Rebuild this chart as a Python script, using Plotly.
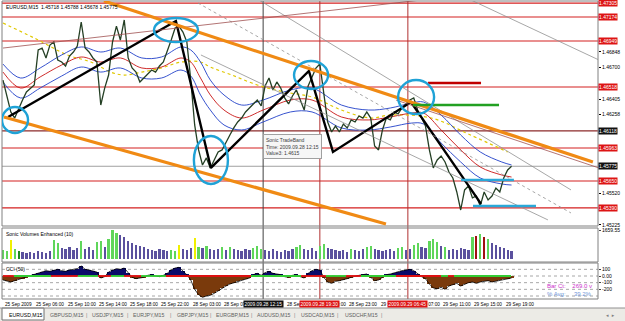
import plotly.graph_objects as go
import numpy as np

W, H = 625, 321

# ---------------- data ----------------
bar_idx = list(range(0, 261, 2))

close = [1.46583, 1.46443, 1.46284, 1.46227, 1.46321, 1.46396, 1.46471, 1.46508, 1.46537, 1.46865,
         1.46883, 1.46790, 1.46911, 1.46940, 1.46771, 1.46752, 1.46715, 1.46808, 1.46846, 1.46902,
         1.47127, 1.46883, 1.46846, 1.46790, 1.46752, 1.46349, 1.46508, 1.46630, 1.46940, 1.47089,
         1.46958, 1.47146, 1.46790, 1.46696, 1.46658, 1.46565, 1.46602, 1.46640, 1.46677, 1.46658,
         1.46715, 1.46752, 1.46846, 1.46958, 1.47071, 1.47089, 1.47033, 1.46940, 1.46583, 1.46162,
         1.45928, 1.45787, 1.45853, 1.45759, 1.45834, 1.45909, 1.45928, 1.46003, 1.46068, 1.46134,
         1.46190, 1.46227, 1.46284, 1.46321, 1.46359, 1.46396, 1.46340, 1.46527, 1.46602, 1.46490,
         1.46565, 1.46508, 1.46415, 1.46359, 1.46434, 1.46490, 1.46396, 1.46302, 1.46527, 1.46621,
         1.46696, 1.46733, 1.46443, 1.46190, 1.46096, 1.46152, 1.46096, 1.46171, 1.46134, 1.46209,
         1.46190, 1.46246, 1.46227, 1.46284, 1.46227, 1.45965, 1.45928, 1.46115, 1.46227, 1.46209,
         1.46284, 1.46265, 1.46321, 1.46359, 1.46396, 1.46415, 1.46302, 1.46227, 1.46152, 1.45928,
         1.45759, 1.45834, 1.45871, 1.45815, 1.45721, 1.45665, 1.45534, 1.45365, 1.45553, 1.45590,
         1.45478, 1.45496, 1.45403, 1.45534, 1.45459, 1.45496, 1.45571, 1.45534, 1.45665, 1.45740,
         1.45775]

ma_idx = [0, 9, 19, 30, 40, 50, 60, 71, 81, 91, 96, 101, 106, 113, 122, 133, 147, 158, 173, 187,
          198, 209, 215, 224, 234, 244, 255, 260]
ma_mid = [1.46658, 1.46508, 1.46612, 1.46724, 1.46799, 1.46752, 1.46790, 1.46696, 1.46705, 1.46790,
          1.46752, 1.46602, 1.46443, 1.46302, 1.46227, 1.46302, 1.46396, 1.46396, 1.46237, 1.46209,
          1.46237, 1.46274, 1.46274, 1.46115, 1.45928, 1.45768, 1.45693, 1.45674]
ma_high = [1.46733, 1.46602, 1.46696, 1.46818, 1.46893, 1.46846, 1.46883, 1.46790, 1.46799, 1.46893,
           1.46865, 1.46752, 1.46583, 1.46443, 1.46349, 1.46396, 1.46490, 1.46508, 1.46349, 1.46302,
           1.46321, 1.46368, 1.46377, 1.46255, 1.46068, 1.45909, 1.45815, 1.45787]
ma_low = [1.46565, 1.46415, 1.46508, 1.46621, 1.46705, 1.46658, 1.46696, 1.46602, 1.46602, 1.46677,
          1.46621, 1.46443, 1.46302, 1.46162, 1.46115, 1.46190, 1.46284, 1.46284, 1.46134, 1.46115,
          1.46143, 1.46180, 1.46171, 1.45993, 1.45815, 1.45665, 1.45609, 1.45599]
slow_idx = [0, 16, 33, 45, 55, 62, 71, 81, 91, 101, 106, 117, 130, 144, 158, 173, 188, 198, 219, 239, 258]
slow_ma = [1.47117, 1.46977, 1.46818, 1.46752, 1.46658, 1.46630, 1.46658, 1.46696, 1.46752, 1.46752,
           1.46705, 1.46630, 1.46537, 1.46471, 1.46424, 1.46302, 1.46227, 1.46255, 1.46227, 1.46068,
           1.45909]

volume = [515, 458, 1087, 572, 458, 400, 343, 400, 343, 458,
          400, 343, 458, 1087, 915, 629, 572, 686, 515, 629,
          1030, 572, 686, 515, 972, 1030, 686, 1144, 1659, 1487,
          1373, 1258, 1030, 915, 801, 744, 686, 572, 515, 458,
          572, 515, 458, 515, 458, 801, 572, 515, 629, 1201,
          686, 629, 744, 572, 515, 572, 686, 515, 686, 572,
          515, 458, 572, 515, 629, 744, 572, 515, 458, 572,
          458, 400, 515, 458, 572, 686, 801, 572, 515, 629,
          458, 744, 858, 629, 572, 515, 458, 515, 400, 572,
          515, 458, 572, 686, 744, 572, 515, 458, 515, 572,
          458, 629, 686, 515, 572, 801, 915, 686, 629, 1030,
          1144, 972, 744, 686, 515, 572, 515, 629, 572, 515,
          1258, 1316, 1430, 1258, 1144, 915, 801, 686, 629, 515,
          458]
volume_kind = list("ggygdppppp" "pppggppppp" "gpppggpggg" "pppppppppp" "pppggypppy"
                   "gpgpppgpgp" "ppppgggppp" "pppppggppp" "pggppppppg" "pppggppppp"
                   "pggppggppg" "ggpgpppppp" "grgrgppppp" "p")

cci = [-60, -80, -90, -70, -50, -40, -20, 10, 20, 40,
       60, 80, 70, 90, 100, 80, 70, 90, 95, 110,
       150, 100, 90, 80, 60, -30, -10, 60, 90, 110,
       100, 120, 50, -20, -40, -30, -20, 10, 20, 0,
       -10, 10, 40, 90, 120, 130, 80, 20, -60, -200,
       -280, -320, -300, -290, -260, -220, -180, -150, -120, -100,
       -80, -60, -50, -30, 20, 40, 10, 50, 70, 40,
       30, 20, -10, -20, 10, 20, -10, -30, 40, 80,
       100, 90, -20, -90, -110, -80, -70, -60, -40, -20,
       0, 10, 20, 30, -20, -70, -60, -20, 20, 30,
       50, 60, 80, 90, 100, 80, 30, -10, -40, -120,
       -180, -190, -170, -200, -150, -130, -110, -150, -120, -100,
       -90, -110, -90, -80, -70, -90, -80, -60, -50, -40,
       -30]
band_edges = [0, 5.6, 24.5, 38.3, 48.6, 55.2, 61.9, 70.6, 83.3, 126.8, 152.4, 165.1, 175.4,
              183, 200.9, 223.9, 227.5, 230.6, 259.7]
band_kind = list("rgrgrgrgrgrgrgrgrg")

levels = [1.47305, 1.47174, 1.46949, 1.46518, 1.46106, 1.45946, 1.45637, 1.45384]
level_text = ["1.47305", "1.47174", "1.46949", "1.46518", "1.46118", "1.45963", "1.45650", "1.45390"]
current_price = 1.45775
price_ticks = [1.45225, 1.45373, 1.45520, 1.45668, 1.45815, 1.45963, 1.46110, 1.46258, 1.46405,
               1.46553, 1.46700, 1.46848, 1.46995, 1.47143, 1.47290]

time_tick_idx = [0, 16, 32, 48, 64, 80, 96, 112, 128, 144, 160, 176, 192, 208, 224, 240, 256]
time_tick_text = ["25 Sep 2009", "25 Sep 06:00", "25 Sep 10:00", "25 Sep 14:00", "25 Sep 18:00",
                  "25 Sep 22:00", "28 Sep 03:00", "28 Sep 07:00", "28 Sep 11:00", "28 Sep 15:00",
                  "28 Sep 19:00", "28 Sep 23:00", "29 Sep 03:00", "29 Sep 07:00", "29 Sep 11:00",
                  "29 Sep 15:00", "29 Sep 19:00"]
vlines_idx = [133, 162, 207]
vlines_text = ["2009.09.28 12:15", "2009.09.28 19:30", "2009.09.29 06:45"]

zigzag_idx = [2.6, 88.4, 106.3, 156.4, 168.7, 208.6, 244.4]
zigzag_price = [1.46237, 1.47136, 1.45759, 1.46668, 1.45909, 1.46377, 1.45422]

orange_lines = [((51.6, 1.47324), (301.6, 1.45815)), ((0.5, 1.46237), (195.8, 1.45234))]
thin_lines = [((130.9, 1.47333), (290.4, 1.45553), "#909090", "solid"),
              ((101.2, 1.46818), (278.6, 1.45272), "#909090", "solid"),
              ((99.7, 1.47305), (290.4, 1.45337), "#909090", "dot"),
              ((239.3, 1.47333), (304.7, 1.46771), "#909090", "solid"),
              ((0, 1.46883), (213.7, 1.47333), "#a05050", "solid"),
              ((200.9, 1.46396), (304.7, 1.45759), "#a05050", "solid")]
ellipses = [(-0.5, 12.8, 1.46087, 1.46330), (77.2, 99.7, 1.46939, 1.47164),
            (97.6, 115.0, 1.45609, 1.46059), (148.8, 166.2, 1.46499, 1.46761),
            (202.0, 220.4, 1.46265, 1.46583)]
segments = [(217.3, 244.4, 1.46555, "#c00000"), (209.6, 253.6, 1.46349, "#22a022"),
            (234.2, 261.2, 1.45646, "#2aa8d8"), (240.3, 272.5, 1.45403, "#2aa8d8")]

tabs = ["EURUSD,M15", "GBPUSD,M15", "USDJPY,M15", "EURJPY,M15", "GBPJPY,M15", "EURGBP,M15",
        "AUDUSD,M15", "USDCAD,M15", "USDCHF,M15"]

# ---------------- figure ----------------
FONT = "Liberation Sans"
X0, X1 = 2 / W, 598 / W


def py(p):
    return 1 - p / H


fig = go.Figure()

# moving averages
fig.add_trace(go.Scatter(x=slow_idx, y=slow_ma, mode="lines", line=dict(color="#e0c800", width=1.2, dash="dot", shape="spline"), yaxis="y"))
fig.add_trace(go.Scatter(x=ma_idx, y=ma_high, mode="lines", line=dict(color="#2040c8", width=0.9, shape="spline"), yaxis="y"))
fig.add_trace(go.Scatter(x=ma_idx, y=ma_low, mode="lines", line=dict(color="#2040c8", width=0.9, shape="spline"), yaxis="y"))
fig.add_trace(go.Scatter(x=ma_idx, y=ma_mid, mode="lines", line=dict(color="#c81414", width=0.9, shape="spline"), yaxis="y"))
# price
fig.add_trace(go.Scatter(x=bar_idx, y=close, mode="lines", line=dict(color="#243f24", width=1.3), yaxis="y"))

# zigzag
fig.add_trace(go.Scatter(x=zigzag_idx, y=zigzag_price, mode="lines", line=dict(color="#000000", width=2.4), yaxis="y"))

# volume
kind_col = {"g": "#5fd65a", "d": "#1f8a1f", "y": "#f0f000", "p": "#5a509e", "r": "#a01010"}
fig.add_trace(go.Bar(x=bar_idx, y=volume, width=1.15, marker=dict(color=[kind_col[k] for k in volume_kind], line=dict(width=0)), yaxis="y2"))

# CCI
cci_arr = np.array(cci)
fig.add_trace(go.Bar(x=bar_idx, y=cci_arr, width=2.05,
                     marker=dict(color=np.where(cci_arr >= 0, "#0a0a6a", "#7a3a0c"), line=dict(width=0)), yaxis="y3"))
fig.add_trace(go.Scatter(x=bar_idx, y=cci, mode="lines", line=dict(color="#000000", width=0.8), yaxis="y3"))

shapes = []
# panel frames
for top, bot in [(1, 226), (228, 262), (263, 299)]:
    shapes.append(dict(type="rect", xref="paper", yref="paper", x0=X0, x1=X1, y0=py(bot), y1=py(top),
                       line=dict(color="#808080", width=1), layer="above"))
# horizontal levels
for i, lv in enumerate(levels):
    col = "#8b2a2a" if i == 4 else "#d42020"
    shapes.append(dict(type="line", xref="paper", yref="y", x0=X0, x1=X1, y0=lv, y1=lv,
                       line=dict(color=col, width=1.2), layer="below"))
shapes.append(dict(type="line", xref="paper", yref="y", x0=X0, x1=X1, y0=current_price, y1=current_price,
                   line=dict(color="#a0a0a0", width=1), layer="below"))
# vertical lines
for i, vx in enumerate(vlines_idx):
    col = "#404040" if i == 0 else "#b03030"
    shapes.append(dict(type="line", xref="x", yref="paper", x0=vx, x1=vx, y0=py(299), y1=py(1),
                       line=dict(color=col, width=1), layer="below"))
# CCI dotted levels
for lv in [100, 0, -100, -200, -300]:
    shapes.append(dict(type="line", xref="paper", yref="y3", x0=X0, x1=X1, y0=lv, y1=lv,
                       line=dict(color="#909090", width=0.8, dash="dot"), layer="below"))
# CCI band
for i, k in enumerate(band_kind):
    shapes.append(dict(type="rect", xref="x", yref="y3", x0=band_edges[i], x1=band_edges[i + 1], y0=-14, y1=14,
                       fillcolor="#dd1010" if k == "r" else "#33cc33", line=dict(width=0), layer="above"))
# thin trend lines
for (a, b, col, dash) in thin_lines:
    shapes.append(dict(type="line", xref="x", yref="y", x0=a[0], y0=a[1], x1=b[0], y1=b[1],
                       line=dict(color=col, width=0.8, dash=dash)))
# orange channel
for (a, b) in orange_lines:
    shapes.append(dict(type="line", xref="x", yref="y", x0=a[0], y0=a[1], x1=b[0], y1=b[1],
                       line=dict(color="#f08a14", width=3.2)))
# short segments
for (xa, xb, lv, col) in segments:
    shapes.append(dict(type="line", xref="x", yref="y", x0=xa, x1=xb, y0=lv, y1=lv, line=dict(color=col, width=2.4)))
# ellipses
for (xa, xb, ya, yb) in ellipses:
    shapes.append(dict(type="circle", xref="x", yref="y", x0=xa, x1=xb, y0=ya, y1=yb,
                       line=dict(color="#1fa2d6", width=2.4)))
# bottom area
shapes.append(dict(type="rect", xref="paper", yref="paper", x0=0, x1=1, y0=0, y1=py(308),
                   fillcolor="#ecebe6", line=dict(width=0), layer="below"))
shapes.append(dict(type="rect", xref="paper", yref="paper", x0=2 / W, x1=44 / W, y0=py(320), y1=py(308),
                   fillcolor="#ffffff", line=dict(color="#707070", width=1), layer="below"))
shapes.append(dict(type="line", xref="paper", yref="paper", x0=0, x1=1, y0=py(308), y1=py(308),
                   line=dict(color="#909090", width=1)))

ann = []
small = dict(family=FONT, size=5, color="#000000")
tiny = dict(family=FONT, size=4.7, color="#000000")
ann.append(dict(text="EURUSD,M15  1.45718 1.45788 1.45678 1.45775", x=4 / W, y=py(2), xref="paper", yref="paper",
                xanchor="left", yanchor="top", showarrow=False, font=small))
ann.append(dict(text="Sonic Volumes Enhanced (10)", x=4 / W, y=py(229), xref="paper", yref="paper",
                xanchor="left", yanchor="top", showarrow=False, font=small))
ann.append(dict(text="CCI (50)", x=4 / W, y=py(264), xref="paper", yref="paper",
                xanchor="left", yanchor="top", showarrow=False, font=small))
ann.append(dict(text="Bar Ct:    269.0 v", x=594 / W, y=py(286), xref="paper", yref="paper",
                xanchor="right", yanchor="middle", showarrow=False, font=dict(family=FONT, size=6, color="#cc33cc")))
ann.append(dict(text="% Avg:     39.2%", x=594 / W, y=py(294), xref="paper", yref="paper",
                xanchor="right", yanchor="middle", showarrow=False, font=dict(family=FONT, size=6, color="#6f95d8")))
# tooltip
ann.append(dict(text="Sonic TradeBand<br>Time: 2009.09.28 12:15<br>Value3: 1.4615", x=263 / W, y=py(134),
                xref="paper", yref="paper", xanchor="left", yanchor="top", align="left", showarrow=False,
                bgcolor="#f6f6f6", bordercolor="#a0a0a0", borderwidth=1, borderpad=2,
                font=dict(family=FONT, size=5, color="#404040")))
# price level boxes
for i, lv in enumerate(levels):
    ann.append(dict(text=level_text[i], x=X1, y=lv, xref="paper", yref="y", xanchor="left", yanchor="middle",
                    showarrow=False, bgcolor="#111111" if i == 4 else "#dd1414", borderpad=0,
                    font=dict(family=FONT, size=5, color="#ffffff")))
ann.append(dict(text="1.45775", x=X1, y=current_price, xref="paper", yref="y", xanchor="left", yanchor="middle",
                showarrow=False, bgcolor="#111111", borderpad=0, font=dict(family=FONT, size=5, color="#ffffff")))
# time labels (boxes for the vertical lines are drawn over them, as in the terminal)
for ix, tt in zip(time_tick_idx, time_tick_text):
    ann.append(dict(text=tt, x=ix, y=py(300), xref="x", yref="paper", xanchor="left", yanchor="top",
                    showarrow=False, font=tiny))
for i, (vx, tt) in enumerate(zip(vlines_idx, vlines_text)):
    ann.append(dict(text=tt, x=vx, y=py(300), xref="x", yref="paper", xanchor="center", yanchor="top",
                    showarrow=False, bgcolor="#111111" if i == 0 else "#dd1414", borderpad=0.5,
                    font=dict(family=FONT, size=4.8, color="#ffffff")))
# tabs
tab_x = [7, 48, 90, 131, 175, 214, 255, 299, 343]
for i, (tx, tt) in enumerate(zip(tab_x, tabs)):
    ann.append(dict(text=tt, x=tx / W, y=py(314.5), xref="paper", yref="paper", xanchor="left", yanchor="middle",
                    showarrow=False, font=dict(family=FONT, size=5.2, color="#000000" if i == 0 else "#606060")))
for sx in [86, 127, 170, 210, 251, 294, 338, 381]:
    ann.append(dict(text="|", x=sx / W, y=py(314.5), xref="paper", yref="paper", xanchor="center",
                    yanchor="middle", showarrow=False, font=dict(family=FONT, size=5.2, color="#808080")))
ann.append(dict(text="◂  ▸", x=610 / W, y=py(314.5), xref="paper", yref="paper", xanchor="center",
                yanchor="middle", showarrow=False, font=dict(family="DejaVu Sans", size=5, color="#808080")))

shown_ticks = [t for t in price_ticks if all(abs(t - lv) > 0.0006 for lv in levels + [current_price])]

fig.update_layout(
    width=W, height=H, margin=dict(l=0, r=0, t=0, b=0),
    paper_bgcolor="#ffffff", plot_bgcolor="#ffffff", showlegend=False, bargap=0,
    xaxis=dict(domain=[X0, X1], range=[-0.5, 304.2], showgrid=False, zeroline=False, showticklabels=False,
               showline=False, fixedrange=True),
    yaxis=dict(domain=[py(226), py(1)], range=[1.45215, 1.47324], side="right", anchor="x",
               tickvals=shown_ticks, ticktext=[f"{v:.5f}" for v in shown_ticks], ticks="outside", ticklen=2,
               tickcolor="#000", tickfont=dict(family=FONT, size=5, color="#000"), showgrid=False, zeroline=False,
               automargin=False),
    yaxis2=dict(domain=[py(262), py(228)], range=[-172, 1774], side="right", anchor="x",
                tickvals=[1659.55], ticktext=["1659.55"], ticks="outside", ticklen=2,
                tickfont=dict(family=FONT, size=5, color="#000"), showgrid=False, zeroline=False, automargin=False),
    yaxis3=dict(domain=[py(299), py(263)], range=[-345, 195], side="right", anchor="x",
                tickvals=[100, 0, -100, -200], ticktext=["100", "0.00", "-100", "-200"], ticks="outside", ticklen=2,
                tickfont=dict(family=FONT, size=5, color="#000"), showgrid=False, zeroline=False, automargin=False),
    shapes=shapes, annotations=ann,
)

fig.write_html("out.html")
